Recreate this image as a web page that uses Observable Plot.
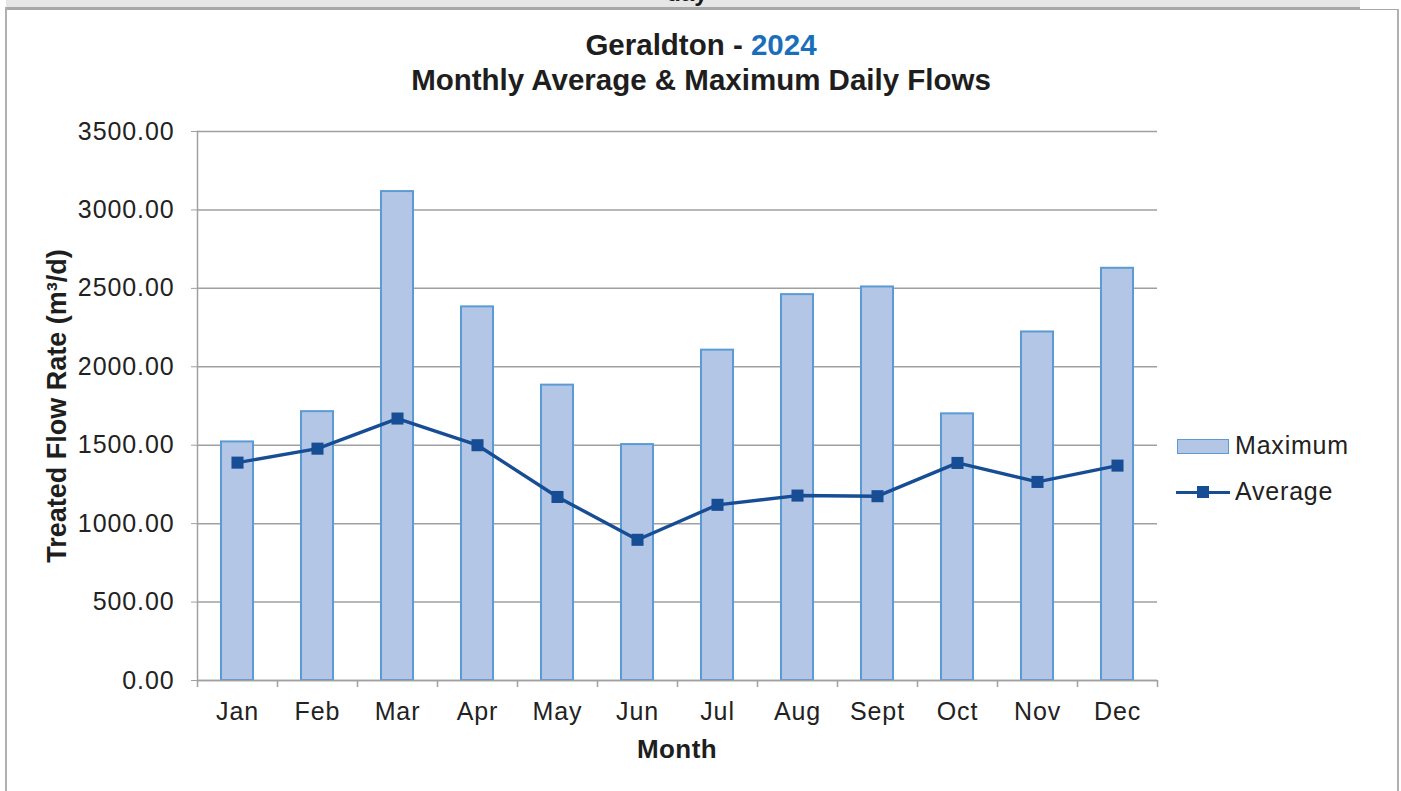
<!DOCTYPE html>
<html>
<head>
<meta charset="utf-8">
<script src="https://cdn.jsdelivr.net/npm/d3@7"></script>
<script src="https://cdn.jsdelivr.net/npm/@observablehq/plot@0.6"></script>
<style>
  html, body { margin: 0; padding: 0; background: #fff; }
  body { width: 1401px; height: 791px; position: relative; overflow: hidden; font-family: "Liberation Sans", Arial, sans-serif; }
  .abs { position: absolute; }
  #strip { left: 6px; top: 0; width: 1354px; height: 7px; background: #e6e6e6; overflow: hidden; }
  #stripline { left: 6px; top: 7px; width: 1354px; height: 3px; background: #a8a8a8; }
  #topline { left: 1360px; top: 9px; width: 39px; height: 1px; background: #a8a8a8; }
  #leftline { left: 5px; top: 7px; width: 2px; height: 784px; background: #b0b0b0; }
  #rightline { left: 1397px; top: 9px; width: 2px; height: 782px; background: #b0b0b0; }
  #daytxt { left: 0; top: -21px; width: 1362px; text-align: center; font-weight: bold; font-size: 24px; color: #1a1a1a; }
  #title { left: 251px; top: 27px; width: 900px; text-align: center; font-weight: bold; font-size: 29.5px; line-height: 35px; color: #1e1e1e; }
  #title .yr { color: #1a6fba; }
  #ytitle { left: 57px; top: 406px; transform: translate(-50%, -50%) rotate(-90deg); white-space: nowrap; font-weight: bold; font-size: 27px; color: #1e1e1e; }
  #xtitle { left: 677px; top: 749px; transform: translate(-50%, -50%); font-weight: bold; font-size: 26px; letter-spacing: 0.4px; color: #1e1e1e; }
  #chart { left: 0; top: 0; }
  .legend { font-size: 25px; letter-spacing: 0.8px; color: #222; }
</style>
</head>
<body>
<div id="chart" class="abs"></div>
<div id="strip" class="abs"><div id="daytxt" class="abs">day</div></div>
<div id="stripline" class="abs"></div>
<div id="topline" class="abs"></div>
<div id="leftline" class="abs"></div>
<div id="rightline" class="abs"></div>
<div id="title" class="abs">Geraldton - <span class="yr">2024</span><br>Monthly Average &amp; Maximum Daily Flows</div>
<div id="ytitle" class="abs">Treated Flow Rate (m³/d)</div>
<div id="xtitle" class="abs">Month</div>
<script>
const months = ["Jan","Feb","Mar","Apr","May","Jun","Jul","Aug","Sept","Oct","Nov","Dec"];
const maximumFlow = [1521, 1714, 3117, 2382, 1883, 1504, 2106, 2460, 2509, 1700, 2222, 2628];
const averageFlow = [1389, 1478, 1670, 1500, 1170, 897, 1120, 1179, 1175, 1387, 1266, 1370];
const yTicks = [0, 500, 1000, 1500, 2000, 2500, 3000, 3500];
const legendLabels = ["Maximum", "Average"];

const data = months.map((m, i) => ({month: m, max: maximumFlow[i], avg: averageFlow[i]}));

const barFill = "#b3c6e6";
const barStroke = "#5b9bd5";
const lineColor = "#174d94";
const gridColor = "#a0a0a0";

const plot = Plot.plot({
  width: 1401,
  height: 791,
  marginLeft: 197,
  marginRight: 244,
  marginTop: 131,
  marginBottom: 111,
  style: {fontFamily: "'Liberation Sans', Arial, sans-serif", fontSize: "25px", letterSpacing: "0.9px", color: "#222", background: "transparent"},
  x: {type: "band", domain: months, paddingInner: 0.6, paddingOuter: 0.3, label: null},
  y: {domain: [0, 3500], label: null},
  marks: [
    Plot.gridY(yTicks, {stroke: gridColor, strokeOpacity: 1, strokeWidth: 1.5}),
    Plot.barY(data, {x: "month", y: "max", fill: barFill, stroke: barStroke, strokeWidth: 2}),
    Plot.ruleY([0], {stroke: gridColor, strokeWidth: 1.5}),
    Plot.frame({anchor: "left", stroke: gridColor, strokeWidth: 1.5}),
    Plot.axisY(yTicks, {tickSize: 6, tickPadding: 17, stroke: gridColor, tickFormat: d3.format(".2f"), fontSize: 25, fill: "#222", label: null}),
    Plot.ruleX(months, {x: d => d, dx: -40, y1: () => 0, y2: () => 0, insetBottom: -7, stroke: gridColor, strokeWidth: 1.5}),
    Plot.ruleX([months[months.length - 1]], {x: d => d, dx: 40, y1: () => 0, y2: () => 0, insetBottom: -7, stroke: gridColor, strokeWidth: 1.5}),
    Plot.axisX({tickSize: 0, tickPadding: 22, fontSize: 25, fill: "#222", label: null}),
    Plot.line(data, {x: "month", y: "avg", stroke: lineColor, strokeWidth: 3.4}),
    Plot.dot(data, {x: "month", y: "avg", symbol: "square", r: 6.8, fill: lineColor, stroke: "none"})
  ]
});
document.getElementById("chart").appendChild(plot);

// Legend
const lg = document.createElement("div");
lg.className = "abs legend";
lg.style.left = "1176px"; lg.style.top = "430px";
lg.innerHTML = `
  <div style="position:absolute;left:1px;top:9px;width:50px;height:13px;background:${barFill};border:1.5px solid ${barStroke};"></div>
  <div style="position:absolute;left:59px;top:1px;white-space:nowrap;">${legendLabels[0]}</div>
  <div style="position:absolute;left:0px;top:61px;width:54px;height:3px;background:${lineColor};"></div>
  <div style="position:absolute;left:21px;top:56px;width:12px;height:12px;background:${lineColor};"></div>
  <div style="position:absolute;left:59px;top:47px;white-space:nowrap;">${legendLabels[1]}</div>
`;
document.body.appendChild(lg);
</script>
</body>
</html>
